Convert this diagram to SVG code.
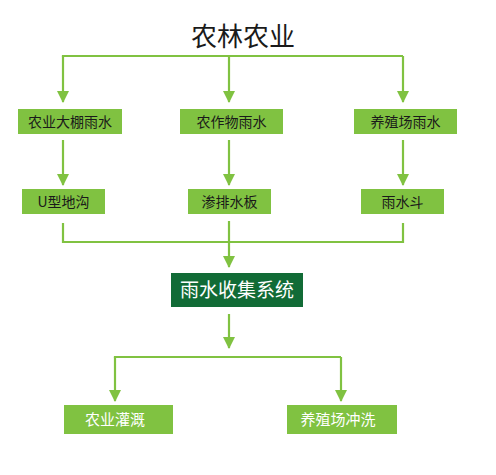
<svg xmlns="http://www.w3.org/2000/svg" width="496" height="475" viewBox="0 0 496 475">
<defs>
<style>
.ln{fill:none;stroke:#80c241;stroke-width:2.2}
.ar{marker-end:url(#ah)}
.bx{fill:#80c241}
.dk{fill:#116b36}
.t{font-family:"Noto Sans CJK SC","Liberation Sans",sans-serif;text-anchor:middle}
.tb{fill:#1a1a1a;font-size:14px}
.tw{fill:#ffffff;font-size:15px}
</style>
<marker id="ah" viewBox="0 0 12 12" refX="11" refY="6" markerWidth="12" markerHeight="12" markerUnits="userSpaceOnUse" orient="auto">
<path d="M0,0 L12,6 L0,12 Z" fill="#80c241"/>
</marker>
</defs>
<rect width="496" height="475" fill="#ffffff"/>
<g id="connectors">
<path class="ln" d="M63,57 V56 H403"/>
<path class="ln ar" d="M63,56 V102"/>
<path class="ln ar" d="M229,56 V102"/>
<path class="ln ar" d="M403,56 V102"/>
<path class="ln ar" d="M63,140 V185"/>
<path class="ln ar" d="M229,140 V185"/>
<path class="ln ar" d="M403,140 V185"/>
<path class="ln" d="M63,223 V242 H403 V223"/>
<path class="ln ar" d="M229,221 V267"/>
<path class="ln ar" d="M229,314 V348"/>
<path class="ln" d="M115,358 V357 H341"/>
<path class="ln ar" d="M115,357 V401"/>
<path class="ln ar" d="M341,357 V401"/>
</g>
<g id="title"><text class="t" x="243" y="46" font-size="26" fill="#1a1a1a">农林农业</text></g>
<g id="n1"><rect class="bx" x="18" y="109" width="104" height="25"/><text class="t tb" x="70" y="126.5">农业大棚雨水</text></g>
<g id="n2"><rect class="bx" x="180" y="109" width="103" height="25"/><text class="t tb" x="231.5" y="126.5">农作物雨水</text></g>
<g id="n3"><rect class="bx" x="354" y="109" width="103" height="25"/><text class="t tb" x="405.5" y="126.5">养殖场雨水</text></g>
<g id="n4"><rect class="bx" x="22" y="189" width="83" height="25"/><text class="t tb" x="63.5" y="206.5">U型地沟</text></g>
<g id="n5"><rect class="bx" x="188" y="189" width="83" height="25"/><text class="t tb" x="229.5" y="206.5">渗排水板</text></g>
<g id="n6"><rect class="bx" x="361" y="189" width="83" height="25"/><text class="t tb" x="402.5" y="206.5">雨水斗</text></g>
<g id="n7"><rect class="dk" x="171" y="273" width="132" height="34"/><text class="t" x="237" y="297" font-size="19" fill="#ffffff">雨水收集系统</text></g>
<g id="n8"><rect class="bx" x="64" y="405" width="109" height="29"/><text class="t tw" x="115" y="425">农业灌溉</text></g>
<g id="n9"><rect class="bx" x="287" y="405" width="110" height="29"/><text class="t tw" x="338" y="425">养殖场冲洗</text></g>
</svg>
